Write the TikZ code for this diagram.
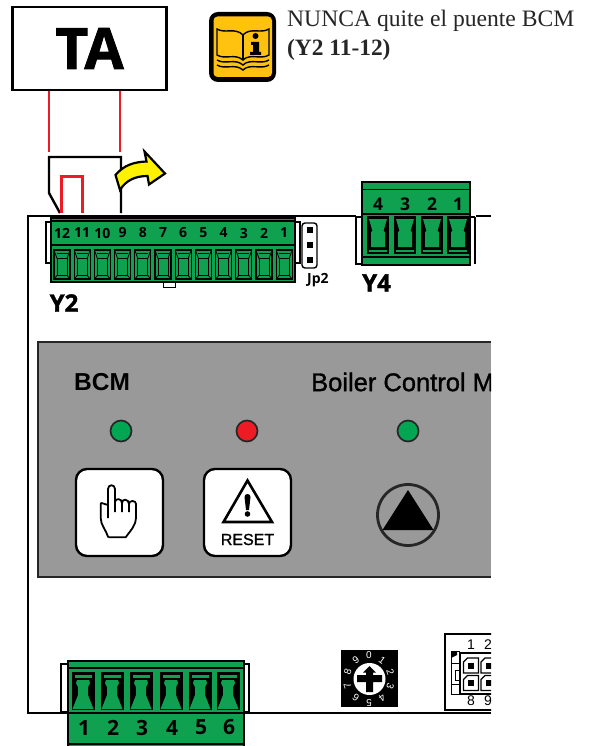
\documentclass[tikz,border=0pt]{standalone}
\usepackage{fontspec}
\setmainfont{Liberation Serif}
\newfontfamily\arial{Liberation Sans}
\newfontfamily\arialmed[FakeBold=1.2]{Liberation Sans}
\newfontfamily\myriad{Open Sans}
\newfontfamily\heavy[BoldFeatures={FakeBold=1.5}]{Open Sans}
\usetikzlibrary{calc}
\definecolor{termgreen}{HTML}{0FA14F}
\definecolor{ledgreen}{HTML}{00A651}
\definecolor{panelgray}{HTML}{999999}
\definecolor{bookyellow}{HTML}{FFC20E}
\definecolor{arrowyellow}{HTML}{FFF200}
\definecolor{wirered}{HTML}{ED1C24}
\tikzset{
  wire/.style={draw=wirered,line width=1.9pt},
  jumper/.style={draw=black,line width=2.4pt},
  greenbody/.style={draw=black,fill=termgreen,line width=1.8pt},
  tabbox/.style={draw=black,fill=white,line width=1.3pt},
  led/.style={circle,draw=black!85,line width=1.7pt,minimum size=21pt,inner sep=0pt},
  keybox/.style={draw=black,fill=white,line width=2.4pt,rounded corners=11pt,minimum size=87pt,inner sep=0pt},
  pinnum/.style={font=\myriad\bfseries\fontsize{14}{15}\selectfont,inner sep=0pt},
  pinnumY/.style={font=\myriad\bfseries\fontsize{17.5}{18}\selectfont,inner sep=0pt},
  pinnumB/.style={font=\myriad\bfseries\fontsize{21}{22}\selectfont,inner sep=0pt},
  conlabel/.style={font=\heavy\bfseries\fontsize{24}{26}\selectfont,inner sep=0pt},
  dialnum/.style={font=\arial\fontsize{10}{11}\selectfont,text=white,inner sep=0pt},
  smallnum/.style={font=\arial\fontsize{14}{15}\selectfont,inner sep=0pt},
  termthin/.pic={
    \draw[black,fill=termgreen,line width=1.2pt] (-8,-14.5) rectangle (8,14.5);
    \draw[black,line width=.8pt] (-5,-6) rectangle (5,11);
    \draw[black,line width=.8pt] (-8,-14.5) -- (-5,-6) (8,-14.5) -- (5,-6) (-8,14.5) -- (-5,11) (8,14.5) -- (5,11);
    \draw[black,line width=.6pt] (-5.5,-11.5) -- (5.5,-11.5);
  },
  termup/.pic={
    \fill[black] (-11,-19) rectangle (11,19);
    \fill[termgreen] (-9,-16) -- (9,-16) -- (5.5,-4) -- (7,-3) -- (7,12) -- (-7,12) -- (-7,-3) -- (-5.5,-4) -- cycle;
    \fill[termgreen] (-9,14.5) rectangle (9,17);
  },
  termdown/.pic={
    \fill[black] (-11.5,-19) rectangle (11.5,19);
    \fill[termgreen] (-8.5,-16) rectangle (8.5,-13.5);
    \fill[termgreen] (-6,-11) -- (6,-11) -- (7,-8) -- (5,-4) -- (5,4) -- (10.5,18) -- (-10.5,18) -- (-5,4) -- (-5,-4) -- (-7,-8) -- cycle;
  }
}
\begin{document}
\begin{tikzpicture}[x=1pt,y=-1pt]
\useasboundingbox (0,0) rectangle (592,746);
\fill[white] (0,0) rectangle (592,746);

% board outline
\draw[black,line width=1.8pt] (491,216) -- (476,216) (356,216) -- (28,216) -- (28,713) -- (491,713);

% gray panel
\fill[panelgray,draw=black!85,line width=1.4pt] (491,342) -- (38,342) -- (38,577) -- (491,577);

% TA box
\node[draw=black,fill=white,line width=2.4pt,minimum width=154pt,minimum height=83pt,inner sep=0pt,font=\heavy\bfseries\fontsize{57}{60}\selectfont] (ta) at (89.5,48.5) {\raisebox{-5pt}{TA}};
\coordinate (redA) at (49,152);
\coordinate (redB) at (120,152);
\draw[wire] (ta.south -| redA) -- (redA);
\draw[wire] (ta.south -| redB) -- (redB);

% jumper wiring
\draw[jumper,line join=miter] (121,213) -- (121,157) -- (49,157) -- (49,193) -- (60,213);
\draw[wire,line width=3pt] (61,213) -- (61,177) -- (82,177) -- (82,213);
\draw[black,fill=arrowyellow,line width=2.2pt,line join=miter]
  (120,190) -- (115.5,175) .. controls (124,165) and (134,162) .. (146.5,161.5)
  -- (144.5,151.5) -- (165,173.5) -- (149,184.5) -- (147.5,176)
  .. controls (136,176) and (126,180) .. (120,190) -- cycle;

% notice icon
\fill[black,rounded corners=9pt] (209,12) rectangle (276,82);
\fill[bookyellow,rounded corners=4pt] (213.5,16.5) rectangle (272,77);
\begin{scope}[line width=1.4pt,black]
  \draw[fill=bookyellow] (217,29) .. controls (225,34) and (235,27) .. (243,35) .. controls (250,27) and (261,34) .. (269,29) -- (269,55) .. controls (261,60) and (250,53) .. (243,60) .. controls (235,53) and (225,60) .. (217,55) -- cycle;
  \draw (243,35) -- (243,60);
  \draw (217,60) .. controls (225,65) and (235,58) .. (243,65) .. controls (250,58) and (261,65) .. (269,60);
  \draw (217,65) .. controls (225,70) and (235,63) .. (243,70) .. controls (250,63) and (261,70) .. (269,65);
  \fill (255.5,36) circle (3pt);
  \fill (251,42) -- (259,42) -- (259,52) -- (261,52) -- (261,55) -- (250,55) -- (250,52) -- (253,52) -- (253,45) -- (251,45) -- cycle;
\end{scope}
\node[anchor=west,inner sep=0pt,font=\fontsize{23.6}{25}\selectfont,text=black!85] (note1) at (287,21) {NUNCA quite el puente BCM};
\node[anchor=west,inner sep=0pt,font=\bfseries\fontsize{23.4}{25}\selectfont,text=black!85] (note2) at (287,50) {(Y2 11-12)};

% Y2 connector
\draw[tabbox] (51,222) -- (46,222) -- (46,263) -- (51,263);
\draw[tabbox] (295,222) -- (300,222) -- (300,263) -- (295,263);
\draw[tabbox,line width=1pt] (163,282) rectangle (175,287);
\node[greenbody,minimum width=244pt,minimum height=64pt,inner sep=0pt] (y2) at (173,250) {};
\draw[black,line width=1.4pt] (51,221) -- (295,221);
\draw[black,line width=1.6pt] (51,245) -- (295,245);
\foreach \n [count=\i from 0] in {12,11,...,1} {
  \pic at ({62+20.2*\i},264.5) {termthin};
  \node[pinnum] (y2n\n) at ({62+20.2*\i},233) {\n};
}
\node[conlabel,anchor=west] (y2lab) at (49.5,303) {Y2};

% Jp2
\draw[black,fill=white,line width=1.4pt,rounded corners=3pt] (302,223) rectangle (317,268);
\foreach \y in {230,245,260} \fill[black] (307,\y-3) rectangle (313,\y+3);
\node[font=\myriad\bfseries\fontsize{14}{15}\selectfont,anchor=west,inner sep=0pt] (jp2) at (307,280) {Jp2};

% Y4 connector
\draw[tabbox] (362,217) -- (356,217) -- (356,264) -- (362,264);
\draw[draw=black,line width=1.1pt] (470,217) -- (475,217);
\draw[black,line width=2.6pt] (475,217) -- (475,264);
\node[greenbody,minimum width=108pt,minimum height=83pt,inner sep=0pt] (y4) at (416,223.5) {};
\draw[black,line width=1.8pt] (362,189.5) -- (470,189.5);
\draw[black,line width=1.8pt] (362,214) -- (470,214);
\foreach \n/\x in {4/378,3/405,2/432,1/458} {
  \pic at (\x,235) {termup};
  \node[pinnumY] (y4n\n) at (\x,204) {\n};
}
\draw[black,line width=1.6pt] (362,257) -- (470,257);
\node[conlabel,anchor=west] (y4lab) at (362,283) {Y4};

% panel content
\node[font=\arial\bfseries\fontsize{24.5}{26}\selectfont,anchor=west,inner sep=0pt] (bcm) at (74,382) {BCM};
\begin{scope}
  \clip (0,0) rectangle (491,746);
  \node[font=\arialmed\fontsize{25.5}{27}\selectfont,anchor=west,inner sep=0pt] (bcmtitle) at (311,382) {Boiler Control Module};
\end{scope}
\node[led,fill=ledgreen] (led1) at (121,431) {};
\node[led,fill=wirered] (led2) at (247,431) {};
\node[led,fill=ledgreen] (led3) at (408,431) {};

\node[keybox] (key1) at (119.5,512.5) {};
\draw[black,line width=1.8pt,line join=round,fill=white]
  (108.3,537.3) -- (125.7,537.3) .. controls (131,530) and (136,525) .. (136,518)
  -- (136,504) .. controls (136,500) and (129,500) .. (129,504)
  -- (129,512) (129,504) .. controls (129,499) and (122,498) .. (122,503)
  -- (122,512) (122,503) .. controls (122,498) and (115,498) .. (115,502)
  -- (115,512) (115,502) -- (115,489) .. controls (115,484) and (108,484) .. (108,489)
  -- (108,518) (108,505) -- (101.5,503) .. controls (100.7,503) and (100.7,504) .. (100.7,505)
  -- (100.7,518) .. controls (100.7,525) and (106,530) .. (108.3,537.3);

\node[keybox] (key2) at (247.5,512.5) {};
\draw[black,line width=2.6pt,line join=miter,fill=white] (247.5,480.5) -- (223.5,522) -- (272,522) -- cycle;
\fill[black] (244.5,497) .. controls (244.5,493) and (250.5,493) .. (250.5,497) -- (249,510) -- (246,510) -- cycle;
\fill[black] (247.5,514) circle (2.8pt);
\node[font=\arialmed\fontsize{16}{17}\selectfont,inner sep=0pt] (reset) at (247.5,539.5) {RESET};

\node[circle,draw=black!85,line width=2.8pt,fill=panelgray,minimum size=61pt,inner sep=0pt] (pump) at (408,515) {};
\fill[black] (408,490) -- (382.5,530) -- (433.5,530) -- cycle;

% bottom connector
\draw[tabbox] (67,664) -- (61,664) -- (61,712) -- (67,712);
\draw[tabbox] (243,664) -- (249,664) -- (249,712) -- (243,712);
\node[greenbody,anchor=north west,minimum width=176pt,minimum height=86pt,inner sep=0pt] (conb) at (67,660) {};
\draw[black,line width=1.8pt] (67,668) -- (243,668);
\draw[black,line width=1.8pt] (67,713) -- (243,713);
\draw[black,line width=1.4pt] (67,744) -- (243,744);
\foreach \n/\x in {1/83,2/112,3/141,4/171,5/200,6/228} {
  \pic at (\x,691) {termdown};
  \node[pinnumB] (bn\n) at (\x+1,727.5) {\n};
}

% rotary dial
\node[fill=black,minimum size=57pt,inner sep=0pt] (dial) at (369.5,678) {};
\foreach \d in {0,...,9} {
  \node[dialnum,rotate=-36*\d] (dn\d) at ({369+22.5*sin(36*\d)},{679-23.5*cos(36*\d)}) {\d};
}
\fill[white] (369.5,679) circle (16pt);
\fill[black] (363,672.7) -- (369.5,666) -- (376,672.7) -- (373,672.7) -- (373,675) -- (382,675) -- (382,682) -- (373,682) -- (373,692) -- (366,692) -- (366,682) -- (357,682) -- (357,675) -- (366,675) -- (366,672.7) -- cycle;

% right connector, cut at the crop edge
\begin{scope}
  \clip (0,0) rectangle (491,746);
  \draw[black,line width=1.2pt] (495,634) -- (445,634) -- (445,710) -- (495,710);
  \node[smallnum] (c1) at (471,645) {1};
  \node[smallnum] (c2) at (488,645) {2};
  \node[smallnum] (c8) at (471,701) {8};
  \node[smallnum] (c9) at (488,701) {9};
  \draw[black,line width=1.5pt] (495,653) -- (460,653) -- (460,694) -- (495,694);
  \draw[black,line width=1pt] (460,651) -- (451,651) -- (451,694) -- (460,694);
  \draw[black,line width=.8pt] (451,663) -- (460,663) (451,684) -- (460,684);
  \fill[black] (451,651) -- (457,651) -- (457,655) -- (451,658) -- cycle;
  \draw[black,line width=.9pt,fill=white] (455,670) rectangle (459,680);
  \foreach \x in {463.5,481} \foreach \y in {658,675.5} {
    \draw[black,line width=1.2pt] (\x+4,\y) -- (\x+15,\y) -- (\x+15,\y+15) -- (\x,\y+15) -- (\x,\y+4) -- cycle;
    \fill[black] (\x+4.5,\y+4.5) rectangle (\x+10.5,\y+10.5);
  }
\end{scope}
\end{tikzpicture}
\end{document}
